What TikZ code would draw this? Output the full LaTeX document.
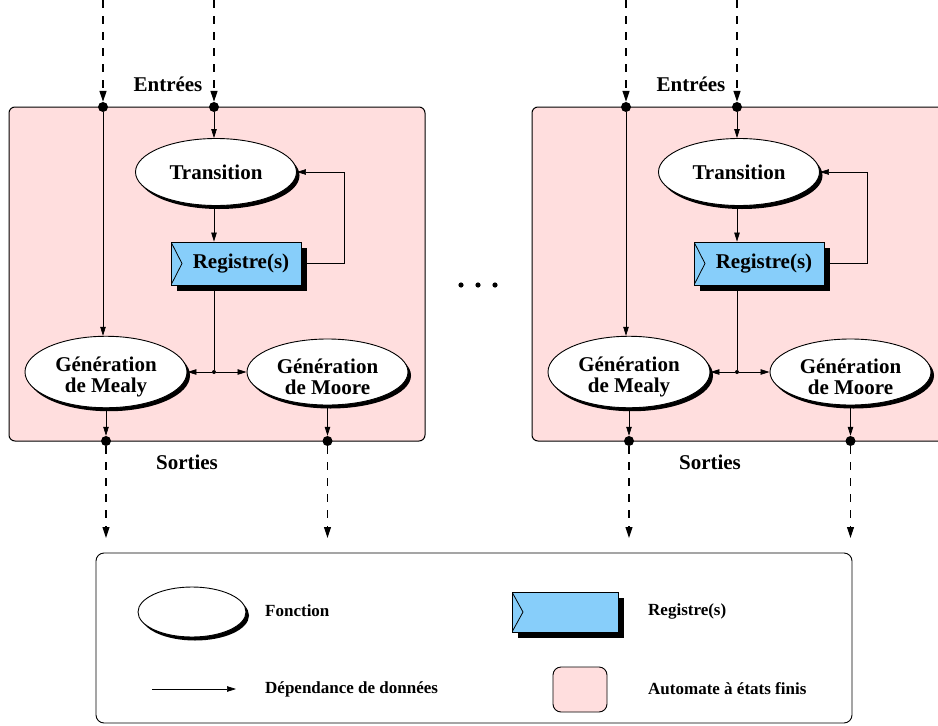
\documentclass[tikz,border=0pt]{standalone}
\usepackage{fontspec}
\setmainfont{Liberation Serif}
\usetikzlibrary{arrows.meta,shadows,shapes.geometric}

\definecolor{fsmpink}{RGB}{255,222,222}
\definecolor{regblue}{RGB}{135,206,250}

\tikzset{
  every node/.style={font=\bfseries\fontsize{21}{21}\selectfont},
  lbl/.style={font=\bfseries\fontsize{17}{18}\selectfont, anchor=west, inner sep=0pt},
  title/.style={inner sep=0pt},
  func/.style={ellipse, draw, fill=white, line width=0.9pt, inner sep=0pt, align=center,
    general shadow={fill=black, shadow xshift=3pt, shadow yshift=-3.5pt}},
  reg/.style={draw, fill=regblue, line width=0.8pt, inner sep=0pt,
    minimum width=130pt, minimum height=43pt,
    general shadow={fill=black, shadow xshift=6pt, shadow yshift=-6pt},
    path picture={\draw[line width=0.8pt]
      (path picture bounding box.north west)
      -- ([xshift=11pt]path picture bounding box.west)
      -- (path picture bounding box.south west);}},
  fsmframe/.style={draw, fill=fsmpink, line width=1pt, rounded corners=6pt},
  dot/.style={circle, fill=black, minimum size=10pt, inner sep=0pt},
  jdot/.style={circle, fill=black, minimum size=4pt, inner sep=0pt},
  arr/.style={-{Triangle[length=9pt,width=5.5pt]}, line width=0.7pt},
  dsh/.style={-{Triangle[length=11pt,width=7pt]}, line width=1.1pt, dash pattern=on 8pt off 8pt},
}

% Two-line label, lowered slightly inside its ellipse
\newcommand\twolines[2]{\rule{0pt}{25pt}#1\\#2}

% One finite state machine block: #1 = name prefix, #2 = horizontal offset
\newcommand\fsmunit[2]{%
  \begin{scope}[shift={(#2,0)}]
    \draw[fsmframe] (9,107) rectangle (425,441);
    % inputs
    \coordinate (#1inA) at (103,0);
    \coordinate (#1inB) at (214,0);
    \node[dot] (#1dA) at (103,107) {};
    \node[dot] (#1dB) at (214,107) {};
    \node[title] (#1entrees) at (168,84) {Entrées};
    % functions and register
    \node[func, minimum width=161pt, minimum height=67pt] (#1tr) at (216,172) {Transition};
    \node[reg] (#1reg) at (236,263.5) {\hspace*{10pt}Registre(s)};
    \node[func, minimum width=162pt, minimum height=66pt] (#1mealy) at (106,372) {\twolines{Génération}{de Mealy}};
    \node[func, minimum width=161pt, minimum height=66pt] (#1moore) at (327.5,372) {\twolines{Génération}{de Moore}};
    \node[jdot] (#1j) at (214,372) {};
    \coordinate (#1fb) at (344,0);
    % outputs
    \node[dot] (#1oA) at (106,441) {};
    \node[dot] (#1oB) at (327.5,441) {};
    \coordinate (#1eA) at (106,538);
    \coordinate (#1eB) at (327.5,538);
    \node[title] (#1sorties) at (187,462) {Sorties};
    % connections
    \draw[dsh] (#1inA) -- (#1dA);
    \draw[dsh] (#1inB) -- (#1dB);
    \draw[arr] (#1dA) -- (#1dA |- #1mealy.north);
    \draw[arr] (#1dB) -- (#1dB |- #1tr.north);
    \draw[arr] (#1dB |- #1tr.south) -- (#1dB |- #1reg.north);
    \draw[arr] (#1reg.east) -- (#1reg.east -| #1fb) |- (#1tr.east);
    \draw[line width=0.7pt] (#1j |- #1reg.south) -- (#1j);
    \draw[arr] (#1j) -- (#1mealy.east);
    \draw[arr] (#1j) -- (#1moore.west);
    \draw[arr] (#1mealy.south) -- (#1oA);
    \draw[arr] (#1moore.south) -- (#1oB);
    \draw[dsh] (#1oA) -- (#1eA);
    \draw[dsh] (#1oB) -- (#1eB);
  \end{scope}}

\begin{document}
\begin{tikzpicture}[x=1pt, y=-1pt]
  \clip (0,0) rectangle (938,726);
  \fill[white] (0,0) rectangle (938,726);

  \fsmunit{L}{0}
  \fsmunit{R}{523}

  % ellipsis between the two machines
  \foreach \xx in {461,478,495} \fill (\xx,285) circle (2.6pt);

  % legend
  \draw[line width=0.9pt, rounded corners=8pt] (96,553) rectangle (852,723);
  \node[func, minimum width=108pt, minimum height=50pt] (lgfun) at (192,612) {};
  \node[lbl] (lgfuntxt) at (265,611) {Fonction};
  \node[reg, minimum width=106pt, minimum height=40pt] (lgreg) at (565,612) {};
  \node[lbl] (lgregtxt) at (648,611) {Registre(s)};
  \coordinate (lgA) at (152,689);
  \coordinate (lgB) at (236,689);
  \draw[arr] (lgA) -- (lgB);
  \node[lbl] (lgarrtxt) at (265,689) {Dépendance de données};
  \node[draw, fill=fsmpink, line width=0.9pt, rounded corners=8pt,
        minimum width=54pt, minimum height=45pt] (lgfsm) at (580,689.5) {};
  \node[lbl] (lgfsmtxt) at (648,689) {Automate à états finis};
\end{tikzpicture}
\end{document}
